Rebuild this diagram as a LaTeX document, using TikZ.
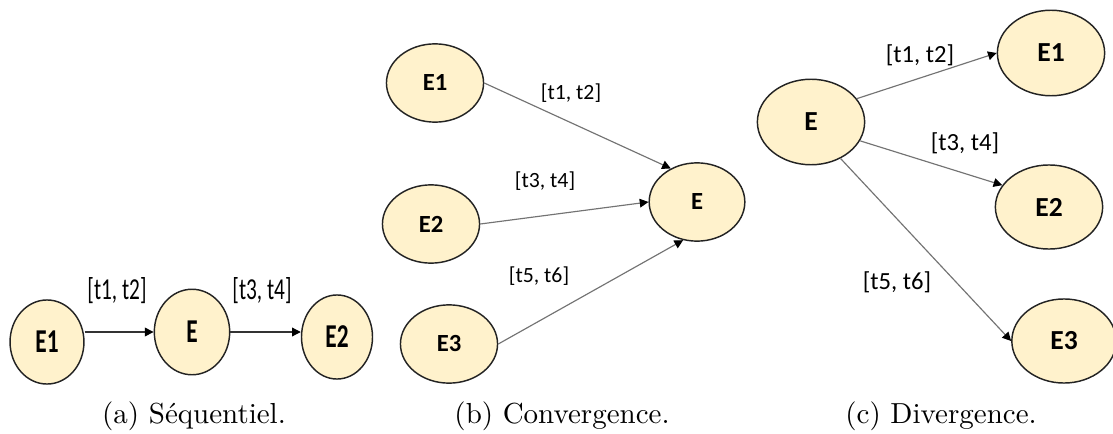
\documentclass[tikz,border=0pt]{standalone}
\usepackage{graphicx}
\usepackage{fontspec}
\newfontfamily\calibri{Carlito}
\usetikzlibrary{arrows.meta,shapes.geometric}
\definecolor{pastelcream}{RGB}{255,242,204}
\definecolor{bordegris}{RGB}{35,35,35}
\newcommand{\etroit}[1]{\scalebox{.7}[1]{#1}}
\tikzset{
  etat/.style={
    ellipse,
    draw=bordegris,
    fill=pastelcream,
    line width=.5pt,
    inner sep=0pt,
    font=\calibri\bfseries
  },
  etatA/.style={
    etat,
    minimum width=25.5pt,
    minimum height=29pt,
    font=\calibri\bfseries\fontsize{11.5}{13}\selectfont
  },
  etatB/.style={
    etat,
    minimum width=33.5pt,
    minimum height=27pt,
    font=\calibri\bfseries\fontsize{8.5}{10}\selectfont
  },
  etatC/.style={
    etat,
    minimum width=37pt,
    minimum height=29.5pt,
    font=\calibri\bfseries\fontsize{9.5}{11}\selectfont
  },
  intervalle/.style={
    inner sep=0pt,
    font=\calibri\fontsize{7.5}{9}\selectfont
  },
  legende/.style={
    anchor=base,
    inner sep=0pt,
    font=\normalsize
  },
  arrow/.style={
    -{Triangle[length=3pt,width=3pt,color=black]},
    line width=.4pt,
    black!55
  }
}

\begin{document}
\begin{tikzpicture}[x=.345pt,y=-.345pt]
\useasboundingbox (0,0) rectangle (1113,434);
% (a) sequentiel
\node[etatA] (seqE1) at (47,342) {\etroit{E1}};
\node[etatA,minimum width=26pt,minimum height=29.5pt] (seqE) at (192,332) {\etroit{E}};
\node[etatA,minimum width=24.5pt] (seqE2) at (337,337) {\etroit{E2}};
\node[intervalle,font=\calibri\fontsize{10.5}{12}\selectfont] (seqL1) at (117,291) {\etroit{[t1, t2]}};
\node[intervalle,font=\calibri\fontsize{10.5}{12}\selectfont] (seqL2) at (262,291) {\etroit{[t3, t4]}};
\draw[arrow,black!80] (seqE1.east |- seqE.west) -- (seqE.west);
\draw[arrow,black!80] (seqE.east) -- (seqE2.west |- seqE.east);
\node[legende] (seqCap) at (194,423) {(a) Séquentiel.};
% (b) convergence
\node[etatB] (convE1) at (435,83) {E1};
\node[etatB] (convE2) at (431,224) {E2};
\node[etatB] (convE3) at (449,344) {E3};
\node[etatB,minimum width=33pt] (convE) at (697,202) {E};
\node[intervalle] (convL1) at (571,93) {[t1, t2]};
\node[intervalle] (convL2) at (545,181) {[t3, t4]};
\node[intervalle] (convL3) at (539,276) {[t5, t6]};
\draw[arrow] (convE1.east) -- (convE.128);
\draw[arrow] (convE2.east) -- (convE.west);
\draw[arrow] (convE3.east) -- (convE.250);
\node[legende] (convCap) at (562,423) {(b) Convergence.};
% (c) divergence
\node[etatC] (divE) at (811,122) {E};
\node[etatC] (divE1) at (1051,53) {E1};
\node[etatC,minimum height=29pt] (divE2) at (1049,207) {E2};
\node[etatC,minimum width=36pt,minimum height=29pt] (divE3) at (1064,341) {E3};
\node[intervalle,font=\calibri\fontsize{8.5}{10}\selectfont] (divL1) at (920,55) {[t1, t2]};
\node[intervalle,font=\calibri\fontsize{8.5}{10}\selectfont] (divL2) at (965,143) {[t3, t4]};
\node[intervalle,font=\calibri\fontsize{8.5}{10}\selectfont] (divL3) at (897,282) {[t5, t6]};
\draw[arrow] (divE.27) -- (divE1.west);
\draw[arrow] (divE.339) -- (divE2.155);
\draw[arrow] (divE.309) -- (divE3.west);
\node[legende] (divCap) at (941,423) {(c) Divergence.};
\end{tikzpicture}
\end{document}
